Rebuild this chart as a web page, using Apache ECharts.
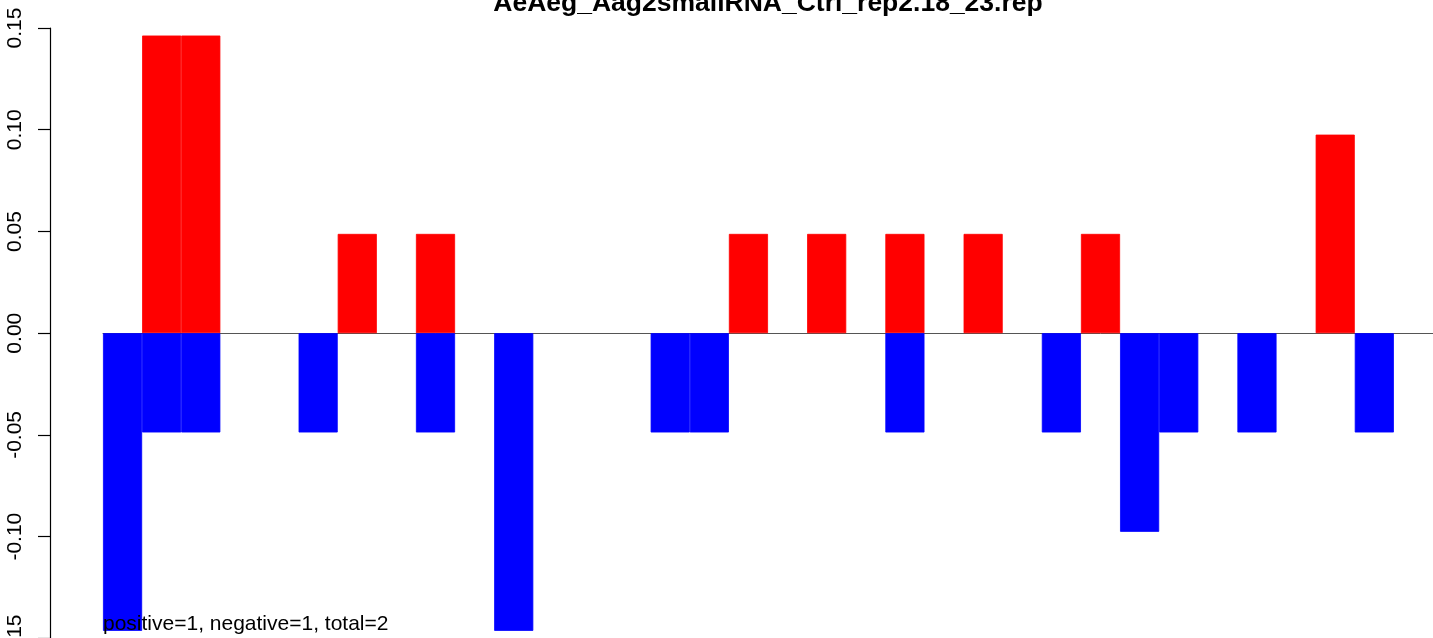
<!DOCTYPE html>
<html>
<head>
<meta charset="utf-8">
<script src="https://cdn.jsdelivr.net/npm/echarts@6/dist/echarts.min.js"></script>
<style>
html,body{margin:0;padding:0;background:#fff;}
#chart{width:1433px;height:638px;}
</style>
</head>
<body>
<div id="chart"></div>
<script>
// Data
const titleText = 'AeAeg_Aag2smallRNA_Ctrl_rep2.18_23.rep';
const noteText = 'positive=1, negative=1, total=2';
const positions = ['1','2','3','4','5','6','7','8','9','10','11','12','13','14','15','16','17','18','19','20','21','22','23','24','25','26','27','28','29','30','31','32','33',''];
const positiveValues = [0,0.1463,0.1463,0,0,0,0.0488,0,0.0488,0,0,0,0,0,0,0,0.0488,0,0.0488,0,0.0488,0,0.0488,0,0,0.0488,0,0,0,0,0,0.0976,0,0];
const negativeValues = [-0.1463,-0.0488,-0.0488,0,0,-0.0488,0,0,-0.0488,0,-0.1463,0,0,0,-0.0488,-0.0488,0,0,0,0,-0.0488,0,0,0,-0.0488,0,-0.0976,-0.0488,0,-0.0488,0,0,-0.0488,0];
const yTickLabels = ['-0.15','-0.10','-0.05','0.00','0.05','0.10','0.15'];
const yMin = -0.15, yMax = 0.15, yStep = 0.05;

// empty slots are not drawn
const asBars = arr => arr.map(v => (v === 0 ? null : v));

const FONT = '"Liberation Sans", Arial, Helvetica, sans-serif';
const chart = echarts.init(document.getElementById('chart'), null, {renderer: 'canvas'});
chart.setOption({
  animation: false,
  backgroundColor: '#ffffff',
  grid: {left: 103, right: 0, top: 28, height: 610.4, containLabel: false, outerBoundsMode: 'none'},
  xAxis: {
    type: 'category',
    data: positions,
    axisLine: {show: true, onZero: true, lineStyle: {color: '#555555', width: 1}},
    axisTick: {show: false},
    axisLabel: {show: false},
    splitLine: {show: false}
  },
  yAxis: {
    type: 'value',
    min: yMin, max: yMax, interval: yStep,
    offset: 53,
    axisLine: {show: true, onZero: false, lineStyle: {color: '#000', width: 1.2}},
    axisTick: {show: true, length: 12, lineStyle: {color: '#000', width: 1.2}},
    splitLine: {show: false},
    axisLabel: {
      rotate: 90,
      margin: 24,
      fontFamily: FONT,
      fontSize: 21,
      color: '#000',
      hideOverlap: false,
      formatter: function (v) {
        const i = Math.round((v - yMin) / yStep);
        return yTickLabels[i];
      }
    }
  },
  series: [
    {
      type: 'bar', name: 'positive', data: asBars(positiveValues),
      barWidth: '100%', barGap: '-100%',
      itemStyle: {color: '#FF0000', borderColor: '#FF0000', borderWidth: 0.8}
    },
    {
      type: 'bar', name: 'negative', data: asBars(negativeValues),
      barWidth: '100%', barGap: '-100%',
      itemStyle: {color: '#0000FF', borderColor: '#0000FF', borderWidth: 0.8}
    }
  ],
  graphic: [
    {
      type: 'text', x: 768, y: 17, z: 100,
      style: {text: titleText, font: 'bold 26.5px ' + FONT, fill: '#000', textAlign: 'center', textVerticalAlign: 'bottom'}
    },
    {
      type: 'text', x: 103, y: 635, z: 100,
      style: {text: noteText, font: '21px ' + FONT, fill: '#000', textAlign: 'left', textVerticalAlign: 'bottom'}
    }
  ]
});
</script>
</body>
</html>
